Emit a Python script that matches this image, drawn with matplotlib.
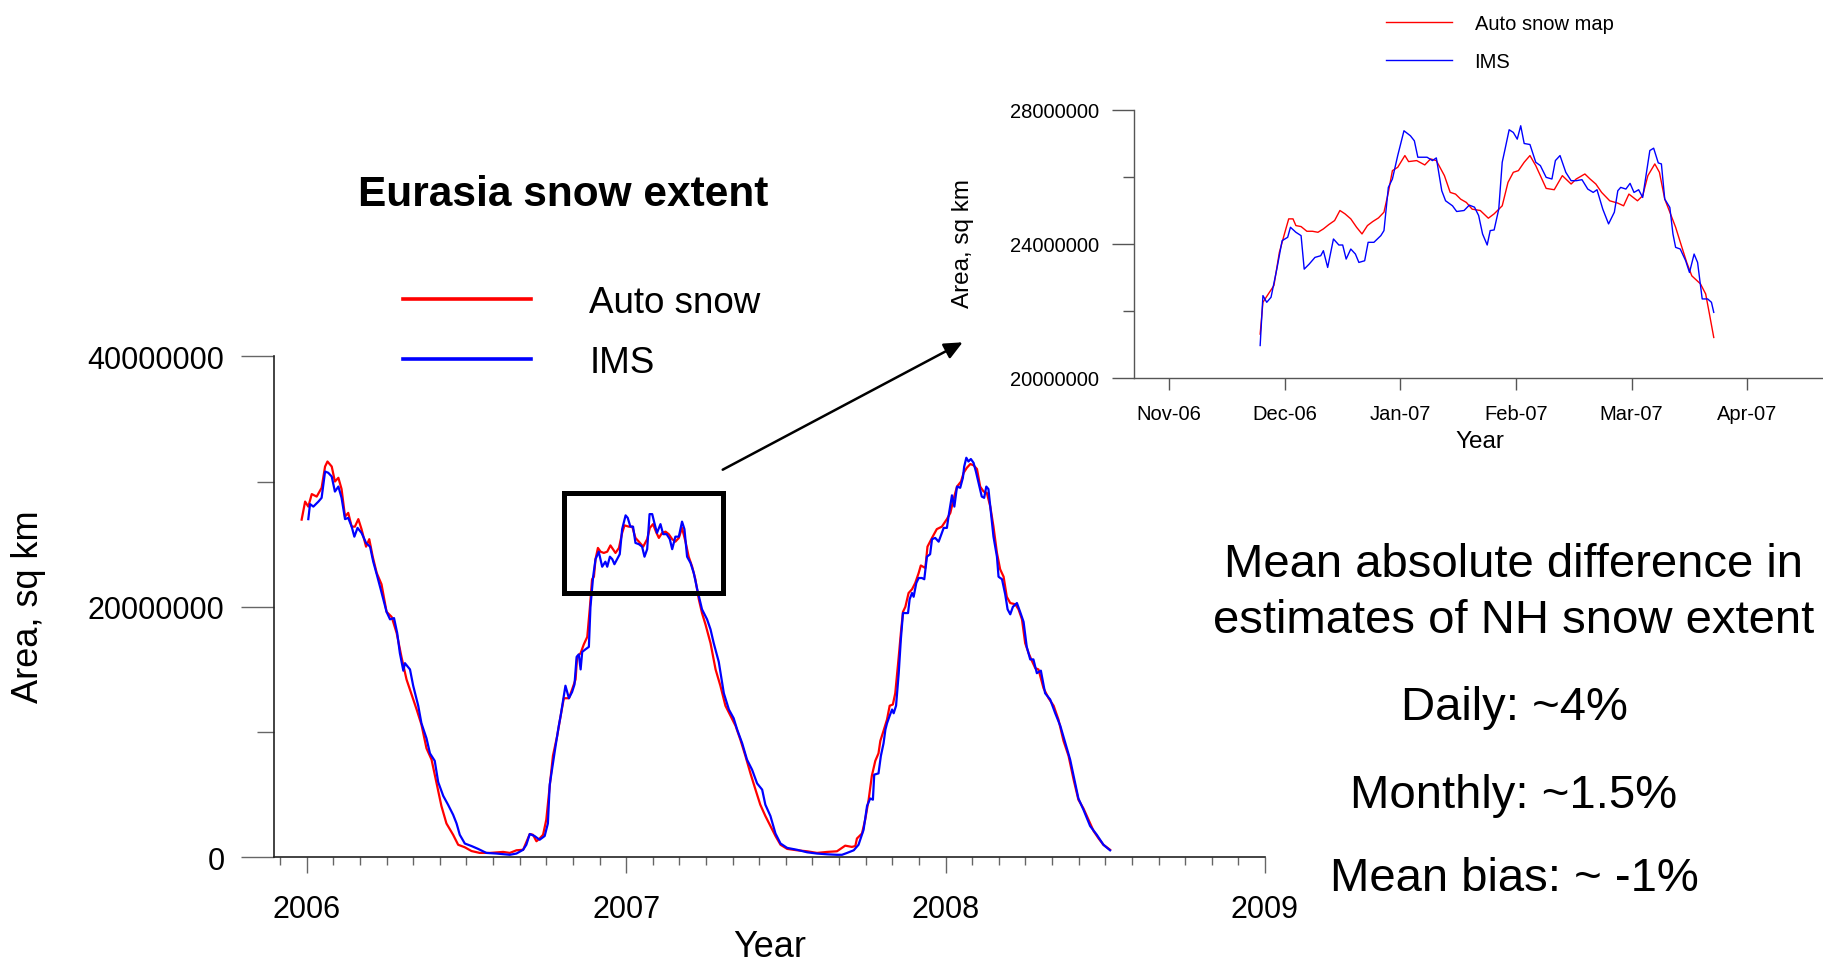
import numpy as np
import matplotlib
matplotlib.use("Agg")
import matplotlib.pyplot as plt
from matplotlib.patches import Rectangle
from matplotlib.ticker import MultipleLocator, FixedLocator, FuncFormatter

plt.rcParams['font.family'] = ['Liberation Sans', 'DejaVu Sans']

# ---------------- main chart data (months since Jan 2006, values in million sq km)
auto_m = [-0.19, -0.06, 0.06, 0.19, 0.375, 0.56, 0.69, 0.78, 0.94, 1.06, 1.19, 1.31, 1.44, 1.56, 1.69, 1.81, 1.94, 2.06, 2.23, 2.35,
          2.48, 2.63, 2.81, 3.0, 3.19, 3.38, 3.56, 3.75, 3.94, 4.13, 4.31, 4.5, 4.69, 4.88, 5.06, 5.25, 5.5, 5.69, 5.94, 6.19,
          6.5, 6.88, 7.38, 7.63, 7.88, 8.13, 8.38, 8.5, 8.63, 8.75, 8.88, 9.0, 9.13, 9.25,
          9.41, 9.54, 9.66, 9.85, 9.97, 10.1, 10.16, 10.29, 10.41, 10.54, 10.64, 10.72, 10.79, 10.85, 10.94, 11.04, 11.16, 11.29, 11.41, 11.6,
          11.73, 11.85, 11.94, 12.1, 12.23, 12.35, 12.48, 12.64, 12.79, 12.89, 13.01, 13.14, 13.23, 13.35, 13.48, 13.6, 13.73, 13.85, 13.98, 14.1,
          14.23, 14.35, 14.48, 14.6, 14.73, 14.85, 14.98, 15.17, 15.36, 15.54, 15.73, 15.92, 16.11, 16.29, 16.48, 16.67, 16.86, 17.04, 17.23, 17.42,
          17.61, 17.8, 18.05, 18.42, 18.8, 19.17, 19.55, 19.92,
          20.23, 20.48, 20.61, 20.67, 20.86, 20.98, 21.11, 21.23, 21.36, 21.48, 21.55, 21.67, 21.8, 21.9, 22.02, 22.11, 22.24, 22.32, 22.4, 22.49,
          22.61, 22.74, 22.86, 22.99, 23.07, 23.24, 23.32, 23.49, 23.67, 23.86, 24.05, 24.18, 24.3, 24.43, 24.58, 24.68, 24.8, 24.93, 25.05, 25.18,
          25.3, 25.43, 25.55, 25.68, 25.8, 25.93, 26.05, 26.18, 26.3, 26.43, 26.62, 26.74, 26.87, 26.99, 27.12, 27.24, 27.37, 27.49, 27.68, 27.87,
          28.06, 28.24, 28.43, 28.62, 28.81, 28.99, 29.18, 29.37, 29.56, 29.75, 29.93, 30.18]
auto_v = [26.96, 28.4, 28.0, 29.0, 28.8, 29.5, 31.2, 31.6, 31.2, 30.0, 30.3, 29.4, 27.2, 27.5, 26.4, 26.4, 27.0, 26.2, 24.8, 25.4,
          24.0, 22.7, 21.8, 19.6, 19.2, 17.9, 16.0, 14.2, 13.0, 11.8, 10.6, 8.7, 7.8, 5.9, 4.1, 2.7, 1.8, 1.0, 0.8, 0.5,
          0.35, 0.35, 0.43, 0.35, 0.56, 0.6, 1.86, 1.8, 1.28, 1.5, 1.8, 3.0, 5.7, 8.1,
          9.7, 11.3, 12.7, 12.7, 13.4, 14.2, 16.0, 16.3, 17.0, 17.6, 20.0, 22.2, 22.4, 23.8, 24.7, 24.4, 24.3, 24.4, 24.9, 24.3,
          24.7, 25.9, 26.5, 26.4, 26.4, 25.5, 25.2, 24.8, 25.4, 26.3, 26.6, 25.9, 25.5, 25.9, 26.0, 25.8, 25.4, 25.2, 25.5, 26.3,
          25.2, 24.0, 23.2, 22.2, 20.6, 19.5, 18.6, 17.1, 15.0, 13.7, 12.1, 11.3, 10.5, 9.4, 8.1, 6.7, 5.4, 4.2, 3.3, 2.5,
          1.7, 1.0, 0.67, 0.56, 0.48, 0.35, 0.43, 0.48,
          0.93, 0.83, 0.9, 1.5, 1.9, 3.0, 4.6, 6.5, 7.7, 8.3, 9.3, 10.1, 11.0, 12.1, 12.2, 13.1, 16.0, 17.9, 19.6, 20.0,
          21.1, 21.4, 21.9, 22.7, 23.3, 23.1, 24.8, 25.5, 26.2, 26.4, 27.0, 27.5, 28.6, 29.6, 30.0, 30.7, 31.1, 31.4, 31.3, 31.0,
          29.6, 29.2, 29.1, 28.0, 26.4, 24.3, 23.0, 22.4, 20.8, 20.3, 20.2, 19.8, 19.0, 17.1, 16.3, 15.7, 15.1, 15.0, 13.5, 12.7,
          12.1, 11.0, 9.3, 8.1, 6.2, 4.6, 3.9, 3.0, 2.1, 1.5, 1.0, 0.6]

ims_m = [0.06, 0.125, 0.25, 0.44, 0.56, 0.69, 0.81, 0.94, 1.06, 1.19, 1.31, 1.44, 1.56, 1.69, 1.79, 1.91, 2.06, 2.23, 2.38, 2.5,
         2.63, 2.78, 3.0, 3.13, 3.28, 3.4, 3.5, 3.63, 3.69, 3.88, 4.0, 4.19, 4.31, 4.5, 4.63, 4.81, 4.94, 5.13, 5.31, 5.5,
         5.63, 5.75, 5.94, 6.19, 6.44, 6.75, 7.13, 7.63, 7.88, 8.13, 8.25, 8.38, 8.56, 8.75, 8.94, 9.06, 9.13,
         9.35, 9.47, 9.54, 9.66, 9.72, 9.85, 9.97, 10.06, 10.14, 10.22, 10.29, 10.35, 10.47, 10.6, 10.66, 10.76, 10.85, 10.97, 11.1, 11.22,
         11.29, 11.39, 11.48, 11.56, 11.66, 11.76, 11.85, 11.98, 12.06, 12.16, 12.26, 12.35, 12.48, 12.6, 12.69, 12.79, 12.88, 12.98, 13.06, 13.16,
         13.29, 13.39, 13.52, 13.64, 13.73, 13.85, 13.98, 14.1, 14.19, 14.29, 14.42, 14.54, 14.67, 14.85, 15.04, 15.17, 15.29, 15.48, 15.67, 15.86,
         16.04, 16.17, 16.36, 16.54, 16.73, 16.92, 17.11, 17.23, 17.42, 17.61, 17.8, 18.05, 18.42, 18.8, 19.17, 19.55, 19.92,
         20.11, 20.3, 20.55, 20.73, 20.92, 21.05, 21.17, 21.27, 21.32, 21.48, 21.57, 21.67, 21.74, 21.8, 21.9, 21.99, 22.05, 22.14, 22.24, 22.32,
         22.4, 22.59, 22.65, 22.74, 22.8, 22.9, 22.99, 23.11, 23.2, 23.3, 23.42, 23.49, 23.61, 23.74, 23.86, 23.93, 24.05, 24.11, 24.24, 24.33,
         24.43, 24.55, 24.65, 24.7, 24.78, 24.86, 24.95, 25.05, 25.14, 25.24, 25.36, 25.45, 25.53, 25.61, 25.68, 25.8, 25.93, 25.99, 26.12, 26.24,
         26.33, 26.43, 26.53, 26.68, 26.8, 26.93, 27.05, 27.18, 27.3, 27.43, 27.58, 27.74, 27.93, 28.12, 28.31, 28.5, 28.68, 28.81, 28.99, 29.18,
         29.43, 29.68, 29.93, 30.18]
ims_v = [27.0, 28.2, 28.0, 28.4, 28.7, 30.8, 30.7, 30.4, 29.2, 29.6, 28.7, 27.0, 27.1, 26.4, 25.6, 26.3, 25.9, 25.1, 24.8, 23.6,
         22.6, 21.4, 19.6, 19.0, 19.1, 17.9, 16.3, 14.9, 15.5, 15.0, 13.7, 12.1, 10.7, 9.5, 8.3, 7.7, 6.0, 4.9, 4.2, 3.4,
         2.7, 1.8, 1.1, 0.9, 0.67, 0.35, 0.3, 0.2, 0.3, 0.6, 1.0, 1.86, 1.7, 1.4, 1.7, 2.7, 5.8,
         8.9, 10.5, 11.3, 12.9, 13.7, 12.7, 13.2, 13.8, 16.0, 16.2, 15.0, 16.4, 16.6, 16.8, 20.0, 22.4, 23.8, 24.4, 23.2, 23.6,
         23.2, 24.0, 23.8, 23.4, 23.8, 24.2, 26.2, 27.3, 27.1, 26.4, 26.4, 25.1, 25.0, 24.8, 24.0, 24.6, 27.4, 27.4, 26.7, 25.9,
         26.6, 25.8, 25.8, 25.4, 24.6, 25.6, 25.6, 26.8, 26.2, 24.0, 23.5, 22.7, 21.4, 19.8, 19.0, 18.2, 17.1, 15.6, 13.1, 11.8,
         11.1, 10.2, 9.1, 7.8, 7.0, 5.9, 5.4, 4.2, 3.3, 1.9, 1.1, 0.75, 0.6, 0.4, 0.3, 0.24, 0.2,
         0.2, 0.35, 0.56, 1.0, 2.2, 4.1, 4.7, 4.6, 6.6, 6.7, 8.1, 9.1, 10.2, 10.7, 11.3, 11.8, 11.5, 12.1, 14.7, 17.4,
         19.5, 19.5, 20.6, 21.1, 20.8, 21.9, 22.3, 22.3, 22.2, 24.0, 24.2, 25.4, 25.5, 25.2, 25.9, 26.3, 26.3, 27.2, 28.9, 28.0,
         29.6, 29.5, 30.3, 31.2, 31.9, 31.6, 31.8, 31.5, 30.8, 29.9, 28.8, 28.7, 29.6, 29.4, 28.0, 25.6, 24.0, 22.4, 22.2, 21.0,
         19.8, 19.4, 20.0, 20.3, 19.6, 18.8, 16.8, 15.8, 15.8, 14.7, 14.9, 13.1, 12.6, 11.5, 10.5, 9.1, 7.8, 6.5, 4.7, 3.8,
         2.5, 1.8, 1.0, 0.56]

year_ticks = [2006, 2007, 2008, 2009]
main_yticks = [0, 20000000, 40000000]

# ---------------- inset data (months since 1 Nov 2006, values in million sq km)
in_auto_m = [0.786, 0.81, 0.857, 0.905, 0.952, 1.0, 1.033, 1.07, 1.095, 1.14, 1.19, 1.238, 1.286, 1.333, 1.38, 1.43, 1.476, 1.52,
             1.57, 1.62, 1.667, 1.714, 1.76, 1.81, 1.857, 1.895, 1.93, 1.976, 2.038, 2.07, 2.14, 2.21, 2.26, 2.31, 2.38, 2.43,
             2.476, 2.52, 2.57, 2.62, 2.69, 2.76, 2.81, 2.88, 2.93, 2.976, 3.02, 3.07, 3.12, 3.17, 3.21, 3.26, 3.33, 3.40,
             3.476, 3.52, 3.595, 3.64, 3.69, 3.74, 3.81, 3.88, 3.93, 3.976, 4.05, 4.095, 4.14, 4.2, 4.24, 4.286, 4.33, 4.38,
             4.43, 4.476, 4.52, 4.595, 4.64, 4.67, 4.71]
in_auto_v = [21.31, 22.26, 22.51, 22.76, 23.75, 24.35, 24.75, 24.75, 24.55, 24.52, 24.38, 24.38, 24.35, 24.45, 24.58, 24.70, 25.0, 24.9,
             24.75, 24.5, 24.3, 24.55, 24.67, 24.78, 24.95, 25.54, 26.19, 26.29, 26.64, 26.46, 26.49, 26.36, 26.54, 26.49, 26.04, 25.54,
             25.49, 25.34, 25.24, 25.04, 25.0, 24.77, 24.9, 25.14, 25.84, 26.14, 26.19, 26.44, 26.64, 26.34, 26.04, 25.66, 25.62, 26.04,
             25.79, 25.94, 26.09, 25.94, 25.79, 25.54, 25.29, 25.22, 25.14, 25.49, 25.29, 25.44, 26.04, 26.39, 26.14, 25.34, 24.95, 24.5,
             23.95, 23.45, 23.05, 22.81, 22.51, 21.96, 21.21]
in_ims_m = [0.786, 0.81, 0.843, 0.88, 0.93, 0.976, 1.024, 1.048, 1.095, 1.14, 1.167, 1.21, 1.26, 1.31, 1.333, 1.37, 1.42, 1.467,
            1.5, 1.53, 1.57, 1.61, 1.64, 1.69, 1.72, 1.77, 1.83, 1.857, 1.895, 1.93, 1.976, 2.03, 2.086, 2.12, 2.15, 2.23,
            2.276, 2.31, 2.357, 2.39, 2.45, 2.486, 2.55, 2.595, 2.64, 2.676, 2.71, 2.75, 2.776, 2.81, 2.85, 2.88, 2.905, 2.94,
            2.976, 3.01, 3.04, 3.07, 3.12, 3.17, 3.21, 3.26, 3.31, 3.34, 3.38, 3.43, 3.476, 3.52, 3.57, 3.62, 3.667, 3.70,
            3.75, 3.8, 3.85, 3.88, 3.905, 3.95, 3.986, 4.02, 4.06, 4.095, 4.157, 4.19, 4.23, 4.257, 4.286, 4.33, 4.357, 4.38,
            4.42, 4.467, 4.5, 4.54, 4.57, 4.61, 4.657, 4.69, 4.71]
in_ims_v = [20.97, 22.46, 22.26, 22.41, 23.25, 24.1, 24.2, 24.5, 24.35, 24.25, 23.25, 23.4, 23.6, 23.65, 23.8, 23.3, 24.15, 23.97,
            23.97, 23.55, 23.85, 23.7, 23.45, 23.5, 24.05, 24.05, 24.25, 24.4, 25.69, 25.94, 26.64, 27.38, 27.23, 27.08, 26.59, 26.59,
            26.49, 26.57, 25.59, 25.29, 25.14, 24.97, 25.0, 25.16, 25.1, 24.85, 24.3, 23.97, 24.4, 24.42, 25.04, 26.44, 26.84, 27.41,
            27.33, 27.13, 27.53, 27.0, 26.97, 26.44, 26.34, 25.99, 25.94, 26.49, 26.64, 26.14, 25.89, 25.89, 25.92, 25.64, 25.54, 25.62,
            25.04, 24.6, 24.95, 25.59, 25.69, 25.64, 25.81, 25.54, 25.62, 25.39, 26.79, 26.86, 26.42, 26.39, 25.34, 25.09, 24.3, 23.9,
            23.85, 23.5, 23.15, 23.7, 23.45, 22.36, 22.36, 22.26, 21.96]

inset_months = ["Nov-06", "Dec-06", "Jan-07", "Feb-07", "Mar-07", "Apr-07"]
inset_yticks = [20000000, 24000000, 28000000]

RED = "#ff0000"
BLUE = "#0000ff"
W, H = 1823, 962

fig = plt.figure(figsize=(W / 100, H / 100), dpi=100)

def fx(px):
    return px / W

def fy(py):
    return 1 - py / H

# ---------------- main axes
ax = fig.add_axes([fx(274.3), fy(858.3), (1265 - 274.3) / W, (858.3 - 357.3) / H])
ax.plot(2006 + np.array(auto_m) / 12, np.array(auto_v) * 1e6, color=RED, lw=1.6, label="Auto snow")
ax.plot(2006 + np.array(ims_m) / 12, np.array(ims_v) * 1e6, color=BLUE, lw=1.6, label="IMS")
ax.set_xlim(2006 + (274.3 - 306.7) / 319.4, 2009.0)
ax.set_ylim(0, 40000000)
for s in ["top", "right"]:
    ax.spines[s].set_visible(False)
for s in ["left", "bottom"]:
    ax.spines[s].set_color("#222222")
    ax.spines[s].set_linewidth(1.2)
ax.xaxis.set_major_locator(FixedLocator(year_ticks))
ax.xaxis.set_minor_locator(MultipleLocator(1 / 12))
ax.xaxis.set_major_formatter(FuncFormatter(lambda v, p: f"{int(round(v))}"))
ax.yaxis.set_major_locator(FixedLocator(main_yticks))
ax.yaxis.set_minor_locator(FixedLocator([10000000, 30000000]))
ax.yaxis.set_major_formatter(FuncFormatter(lambda v, p: f"{int(v)}"))
ax.tick_params(axis="x", which="major", direction="out", length=11.5, width=1.0, color="#666666",
               labelsize=22, pad=15)
ax.tick_params(axis="x", which="minor", direction="out", length=6, width=1.0, color="#666666")
ax.tick_params(axis="y", which="major", direction="out", length=23.8, width=1.0, color="#666666",
               labelsize=22, pad=12)
ax.tick_params(axis="y", which="minor", direction="out", length=12, width=1.0, color="#666666")

ax.add_patch(Rectangle((2006.804, 21.08e6), 2007.302 - 2006.804, 8.0e6, fill=False,
                       ec="black", lw=3.6, clip_on=False, zorder=5))

leg = ax.legend(loc="center left", bbox_to_anchor=(fx(403), fy(333.5)), bbox_transform=fig.transFigure,
                frameon=False, fontsize=26.5, handlelength=3.48, handletextpad=1.58,
                labelspacing=0.67, borderpad=0, borderaxespad=0)
for line in leg.get_lines():
    line.set_linewidth(2.6)

fig.text(fx(562.7), fy(195.3), "Eurasia snow extent", ha="center", va="center",
         fontsize=30.5, fontweight="bold")
fig.text(fx(29), fy(607), "Area, sq km", rotation=90, ha="center", va="center", fontsize=26)
fig.text(fx(770), fy(948), "Year", ha="center", va="center", fontsize=26)

# arrow
fig.add_artist(matplotlib.patches.FancyArrowPatch(
    (fx(722.7), fy(470.7)), (fx(962.7), fy(343.3)), transform=fig.transFigure,
    arrowstyle="-|>,head_length=0.55,head_width=0.25", mutation_scale=20,
    color="black", lw=1.8, shrinkA=0, shrinkB=0))

# ---------------- inset axes
ix0, ix1 = -0.3097, 5.655
ia = fig.add_axes([fx(1133.5), fy(379), 1 - fx(1133.5), (379 - 111) / H])
ia.plot(in_auto_m, np.array(in_auto_v) * 1e6, color=RED, lw=1.0, label="Auto snow map")
ia.plot(in_ims_m, np.array(in_ims_v) * 1e6, color=BLUE, lw=1.0, label="IMS")
ia.set_xlim(ix0, ix1)
ia.set_ylim(20000000, 28000000)
for s in ["top", "right"]:
    ia.spines[s].set_visible(False)
for s in ["left", "bottom"]:
    ia.spines[s].set_color("#555555")
    ia.spines[s].set_linewidth(1.0)
ia.xaxis.set_major_locator(FixedLocator(range(len(inset_months))))
ia.set_xticklabels(inset_months)
ia.yaxis.set_major_locator(FixedLocator(inset_yticks))
ia.yaxis.set_minor_locator(FixedLocator([22000000, 26000000]))
ia.yaxis.set_major_formatter(FuncFormatter(lambda v, p: f"{int(v)}"))
ia.tick_params(axis="x", which="major", direction="out", length=8.4, width=1.0, color="#555555",
               labelsize=14.5, pad=10.5)
ia.tick_params(axis="y", which="major", direction="out", length=15.8, width=1.0, color="#555555",
               labelsize=14.5, pad=9)
ia.tick_params(axis="y", which="minor", direction="out", length=8, width=1.0, color="#555555")

ileg = ia.legend(loc="center left", bbox_to_anchor=(fx(1386), fy(43.5)), bbox_transform=fig.transFigure,
                 frameon=False, fontsize=14.5, handlelength=3.3, handletextpad=1.1,
                 labelspacing=0.95, borderpad=0, borderaxespad=0)

fig.text(fx(963), fy(244), "Area, sq km", rotation=90, ha="center", va="center", fontsize=17.5)
fig.text(fx(1480), fy(442), "Year", ha="center", va="center", fontsize=17.5)

# ---------------- statistics text
stats = ["Mean absolute difference in", "estimates of NH snow extent",
         "Daily: ~4%", "Monthly: ~1.5%", "Mean bias: ~ -1%"]
stat_baselines = [577, 633, 720, 808, 891]
for s, b in zip(stats, stat_baselines):
    fig.text(fx(1514), fy(b), s, ha="center", va="baseline", fontsize=34)

fig.savefig("out.png", dpi=100)
